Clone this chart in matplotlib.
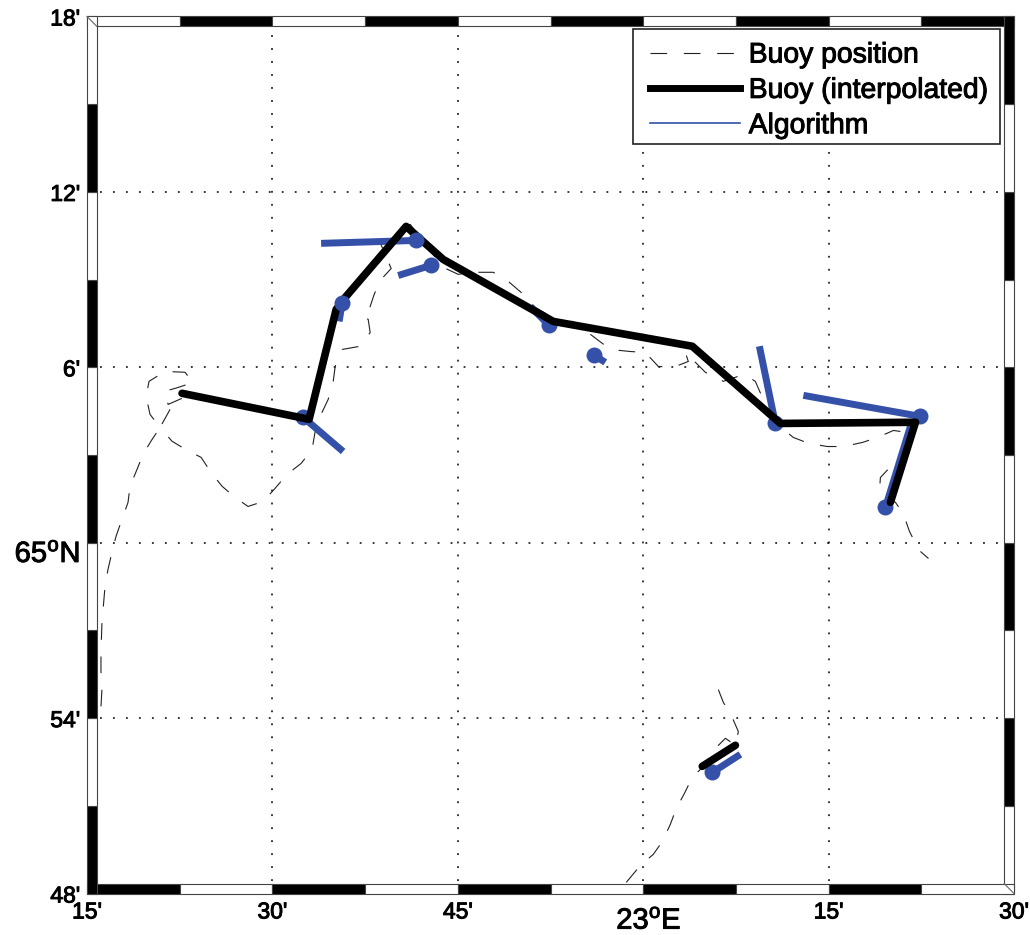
import matplotlib
matplotlib.use("Agg")
import matplotlib.pyplot as plt
import matplotlib.patheffects as pe
from matplotlib.lines import Line2D
from matplotlib.patches import Rectangle
from matplotlib.transforms import ScaledTranslation

plt.rcParams['font.family'] = ['Liberation Sans', 'DejaVu Sans']
plt.rcParams['mathtext.fontset'] = 'custom'
plt.rcParams['mathtext.rm'] = 'Liberation Sans'
plt.rcParams['mathtext.default'] = 'rm'

# positions in minutes: lon east of 22 deg, lat relative to 65 deg N
buoy_lon = [16.13, 16.21, 16.13, 16.13, 16.21, 16.46, 16.70, 17.02, 17.35, 17.83, 18.32, 18.48,
            19.05, 19.53, 20.26, 20.91, 20.10, 19.78, 20.02, 21.31, 22.93, 23.58, 22.37, 21.31,
            21.56, 22.69, 21.72, 20.91, 21.88, 23.10, 24.23, 25.04, 25.93, 26.98, 28.03, 29.25,
            30.22, 31.19, 32.32, 33.21, 33.46, 33.86, 34.51, 34.91, 35.08, 35.64, 37.10, 37.91,
            37.75, 37.34, 37.83, 38.23, 38.72, 39.61, 39.12, 38.72, 39.37, 41.15, 42.36, 43.82,
            45.03, 46.57, 47.87, 49.08, 50.13, 51.27, 53.29, 54.26, 55.72, 57.34, 58.96, 60.17,
            61.22, 62.44, 63.65, 63.41, 65.03, 66.48, 68.18, 69.07, 69.64, 70.53, 71.34, 72.15,
            73.37, 74.90, 76.20, 77.74, 78.95, 80.25, 81.38, 80.57, 79.19, 79.11, 80.41, 81.06,
            81.54, 82.19, 82.43, 83.08]
buoy_lat = [-5.60, -5.02, -4.40, -3.75, -2.73, -1.49, -0.91, -0.33, 0.22, 0.80, 1.38, 1.93,
            2.51, 3.02, 3.53, 3.94, 4.39, 5.00, 5.52, 5.86, 5.83, 5.48, 5.31, 5.18,
            4.73, 4.94, 4.56, 3.94, 3.47, 3.16, 2.92, 2.40, 1.93, 1.55, 1.24, 1.41,
            1.86, 2.34, 2.71, 3.19, 3.81, 4.32, 4.90, 5.48, 6.03, 6.61, 6.72, 7.19,
            7.64, 7.71, 7.98, 8.49, 8.97, 9.38, 9.86, 10.27, 10.31, 10.89, 10.20, 9.42,
            9.18, 9.25, 9.25, 8.94, 8.56, 8.05, 7.54, 7.57, 7.13, 6.61, 6.54, 6.51,
            6.03, 6.00, 6.20, 6.51, 5.83, 5.52, 5.76, 5.52, 4.97, 4.46, 3.88, 3.60,
            3.40, 3.29, 3.29, 3.43, 3.60, 3.84, 3.77, 2.85, 2.23, 1.72, 1.38, 0.97,
            0.39, -0.16, -0.30, -0.54]

buoy2_lon = [58.63, 59.77, 60.82, 61.55, 62.19, 62.68, 63.33, 63.97, 64.78, 65.76, 66.65, 67.46,
             67.70, 67.13, 66.48, 65.92, 65.84]
buoy2_lat = [-11.62, -11.04, -10.66, -10.22, -9.64, -9.09, -8.58, -8.03, -7.69, -7.07, -6.69, -6.93,
             -6.46, -5.91, -5.46, -4.85, -4.57]

interp_lon = [22.69, 32.97, 35.16, 35.89, 40.82, 43.82, 52.72, 63.97, 71.10, 82.03, 80.00]
interp_lat = [5.11, 4.22, 7.98, 8.39, 10.82, 9.69, 7.57, 6.72, 4.08, 4.12, 1.38]
interp2_lon = [64.78, 67.46]
interp2_lat = [-7.65, -6.93]

algo_lon = [32.49, 35.64, 41.63, 42.85, 52.40, 56.04, 70.69, 82.43, 79.60, 65.59]
algo_lat = [4.29, 8.19, 10.34, 9.49, 7.43, 6.41, 4.08, 4.32, 1.21, -7.86]
tail_lon = [35.72, 35.40, 33.94, 40.18, 50.86, 56.93, 69.40, 72.96, 81.62, 67.86]
tail_lat = [3.12, 7.57, 10.24, 9.14, 8.08, 6.17, 6.72, 5.04, 3.98, -7.24]

x_ticks = [15, 30, 45, 60, 75, 90]
x_labels = ["15'", "30'", "45'", "23$^{o}$E", "15'", "30'"]
y_ticks = [-12, -6, 0, 6, 12, 18]
y_labels = ["48'", "54'", "65$^{o}$N", "6'", "12'", "18'"]

blue = '#3450a8'
W, H = 1030, 935
heavy = [pe.withStroke(linewidth=0.7, foreground='black')]

fig = plt.figure(figsize=(W / 100, H / 100), dpi=100)
ax = fig.add_axes([87 / W, (H - 893.5) / H, 927 / W, 877 / H])
ax.set_xlim(15, 90)
ax.set_ylim(-12, 18)

ax.set_xticks(x_ticks)
ax.set_xticklabels(x_labels, fontsize=16.5)
ax.set_yticks(y_ticks)
ax.set_yticklabels(y_labels, fontsize=16.5)
ax.tick_params(length=0, pad=5)
for lab in ax.get_xticklabels() + ax.get_yticklabels():
    lab.set_path_effects(heavy)

lab = ax.get_xticklabels()[3]
lab.set_fontsize(21)
lab.set_transform(lab.get_transform() + ScaledTranslation(4 / 72, -4.5 / 72, fig.dpi_scale_trans))
lab = ax.get_yticklabels()[2]
lab.set_fontsize(21)
lab.set_transform(lab.get_transform() + ScaledTranslation(0, -6 / 72, fig.dpi_scale_trans))

for s in ax.spines.values():
    s.set_visible(False)
ax.grid(True, color='black', linewidth=1.1, linestyle=(0, (1.2, 7.3)))
ax.set_axisbelow(True)

dash = (0, (15, 15))
ax.plot(buoy_lon, buoy_lat, color='#222222', lw=0.8, ls=dash, zorder=2)
ax.plot(buoy2_lon, buoy2_lat, color='#222222', lw=0.8, ls=dash, zorder=2)

# tails and most dots go under the black line, two dots sit on top of it
for i in range(len(algo_lon)):
    ax.plot([algo_lon[i], tail_lon[i]], [algo_lat[i], tail_lat[i]], color=blue, lw=5,
            solid_capstyle='butt', zorder=3)
    z = 5 if i in (1, 2) else 3
    ax.plot(algo_lon[i], algo_lat[i], 'o', color=blue, ms=11.5, mew=0, zorder=z)

ax.plot(interp_lon, interp_lat, color='black', lw=5.5, solid_joinstyle='round',
        solid_capstyle='round', zorder=4)
ax.plot(interp2_lon, interp2_lat, color='black', lw=5.5, solid_capstyle='round', zorder=4)

# checkered map frame
bw = 0.8
bh = 0.34
for k in range(10):
    x0 = 15 + 7.5 * k
    y0 = -12 + 3 * k
    bottom = 'black' if k % 2 == 0 else 'white'
    top = 'white' if k % 2 == 0 else 'black'
    ax.add_patch(Rectangle((x0, -12), 7.5, bh, fc=bottom, ec='#444444', lw=0.8, clip_on=False, zorder=6))
    ax.add_patch(Rectangle((x0, 18 - bh), 7.5, bh, fc=top, ec='#444444', lw=0.8, clip_on=False, zorder=6))
    ax.add_patch(Rectangle((15, y0), bw, 3, fc=bottom, ec='#444444', lw=0.8, clip_on=False, zorder=6))
    ax.add_patch(Rectangle((90 - bw, y0), bw, 3, fc=top, ec='#444444', lw=0.8, clip_on=False, zorder=6))
ax.plot([15, 15 + bw], [18, 18 - bh], color='#666666', lw=0.8, clip_on=False, zorder=7)
ax.plot([90 - bw, 90], [-12 + bh, -12], color='#666666', lw=0.8, clip_on=False, zorder=7)

# legend box is wider on the left than a normal legend frame
ax.add_patch(Rectangle((59.2, 13.63), 29.7, 3.93, fc='white', ec='#222222', lw=1.2, zorder=8))
handles = [
    Line2D([], [], color='#222222', lw=0.8, ls=dash),
    Line2D([], [], color='black', lw=5),
    Line2D([], [], color=blue, lw=1.2),
]
labels = ['Buoy position', 'Buoy (interpolated)', 'Algorithm']
leg = ax.legend(handles, labels, loc='upper left', bbox_to_anchor=(60.58, 17.11), bbox_transform=ax.transData,
                borderaxespad=0, borderpad=0, fontsize=20.4, frameon=False,
                handlelength=3.15, handletextpad=0.32, labelspacing=0.33)
leg.set_zorder(9)
for t in leg.get_texts():
    t.set_path_effects(heavy)

fig.savefig('out.png', dpi=100)
